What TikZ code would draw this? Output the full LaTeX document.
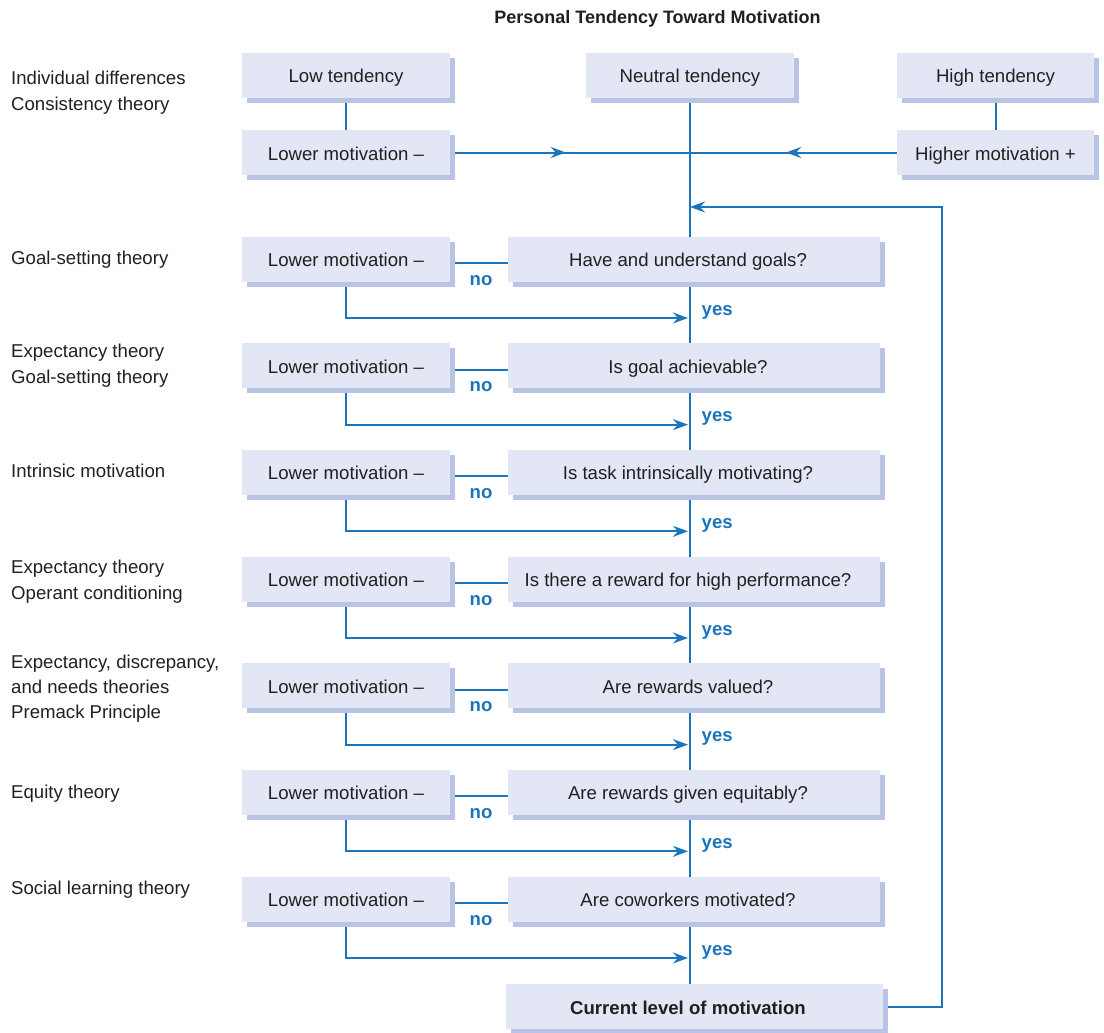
\documentclass[tikz,border=0pt]{standalone}
\usepackage{fontspec}
\setmainfont{Liberation Sans}
\usetikzlibrary{arrows.meta,shadows,decorations.markings,backgrounds}
\definecolor{boxfill}{HTML}{E3E6F4}
\definecolor{boxshadow}{HTML}{B9C4E4}
\definecolor{flow}{HTML}{1B75BC}
\definecolor{ink}{HTML}{231F20}
\begin{document}
\begin{tikzpicture}[x=1pt,y=-1pt,
  txt/.style={font=\fontsize{18.6}{22}\selectfont, text=ink, inner sep=0pt},
  boxtext/.style={text height=15pt, text depth=0pt},
  box/.style={fill=boxfill, draw=none, inner sep=0pt, minimum height=45pt,
    boxtext,
    drop shadow={shadow xshift=5pt, shadow yshift=-5pt, fill=boxshadow, opacity=1},
    font=\fontsize{18.6}{22}\selectfont, text=ink},
  flowline/.style={draw=flow, line width=2pt},
  tip/.style={-{Stealth[length=15pt,width=11pt,inset=5pt]}},
  midarrow/.style={postaction={decorate}, decoration={markings,
    mark=at position #1 with {\arrow{Stealth[length=15pt,width=11pt,inset=5pt]}}}},
  lbl/.style={font=\fontsize{18.6}{22}\selectfont\bfseries, text=flow, inner sep=0pt}
]
\useasboundingbox (0,0) rectangle (1104,1033);

% title
\node[txt, anchor=base, font=\fontsize{18}{22}\selectfont\bfseries] (title) at (657.5,23.5) {Personal Tendency Toward Motivation};

% left theory labels
\foreach \y/\t [count=\k] in {78/{Individual differences}, 104/{Consistency theory},
  258/{Goal-setting theory}, 351/{Expectancy theory}, 377/{Goal-setting theory},
  471/{Intrinsic motivation}, 567/{Expectancy theory}, 593/{Operant conditioning},
  662/{Expectancy, discrepancy,}, 687/{and needs theories}, 712/{Premack Principle},
  792/{Equity theory}, 888/{Social learning theory}} {
  \node[txt, anchor=base west] (theory\k) at (11,\y+6.5) {\t};
}

% top row
\node[box, minimum width=208pt] (low) at (346,75.5) {Low tendency};
\node[box, minimum width=208pt] (neutral) at (690,75.5) {Neutral tendency};
\node[box, minimum width=197pt] (high) at (995.5,75.5) {High tendency};
\node[box, minimum width=208pt] (lm0) at (346,152.5) {Lower motivation –};
\node[box, minimum width=197pt] (hm) at (995.5,152.5) {Higher motivation +};
\coordinate (meet) at (688,152.5);
\coordinate (fbin) at (690,207);
\coordinate (fbcorner) at (942,207);

% question rows
\foreach \i/\q in {1/{Have and understand goals?}, 2/{Is goal achievable?},
  3/{Is task intrinsically motivating?}, 4/{Is there a reward for high performance?},
  5/{Are rewards valued?}, 6/{Are rewards given equitably?}, 7/{Are coworkers motivated?}} {
  \pgfmathsetmacro\c{259+(\i-1)*106.667}
  \node[box, minimum width=208pt] (L\i) at (346,\c) {Lower motivation –};
  \node[box, minimum width=372pt] (Q\i) at (694,\c) {};
  \node[txt, boxtext] (Qt\i) at (688,\c) {\q};
  \node[lbl, anchor=base] (no\i) at (481,\c+26) {no};
  \node[lbl, anchor=base west] (yes\i) at (701.5,\c+56) {yes};
  \coordinate (join\i) at (688,\c+59);
}

% final box
\node[box, minimum width=377pt] (cur) at (694.5,1006.5) {};
\node[txt, boxtext, font=\fontsize{18.6}{22}\selectfont\bfseries] (curt) at (688,1006.5) {Current level of motivation};

\begin{scope}[on background layer]
  \draw[flowline] (neutral.south) -- (neutral.south |- cur.north);
  \draw[flowline] (low.south) -- (lm0.north);
  \draw[flowline] (high.south) -- (hm.north);
  \draw[flowline, midarrow=0.475] ([xshift=5pt]lm0.east) -- (meet);
  \draw[flowline, midarrow=0.53] (hm.west) -- (meet);
  \foreach \i in {1,...,7} {
    \draw[flowline] ([xshift=5pt,yshift=-4pt]L\i.east) -- ([yshift=-4pt]Q\i.west);
    \draw[flowline, tip] (L\i.south) |- (join\i);
  }
  \draw[flowline, tip] ([xshift=5pt]cur.east) -| (fbcorner) -- (fbin);
\end{scope}
\end{tikzpicture}
\end{document}
